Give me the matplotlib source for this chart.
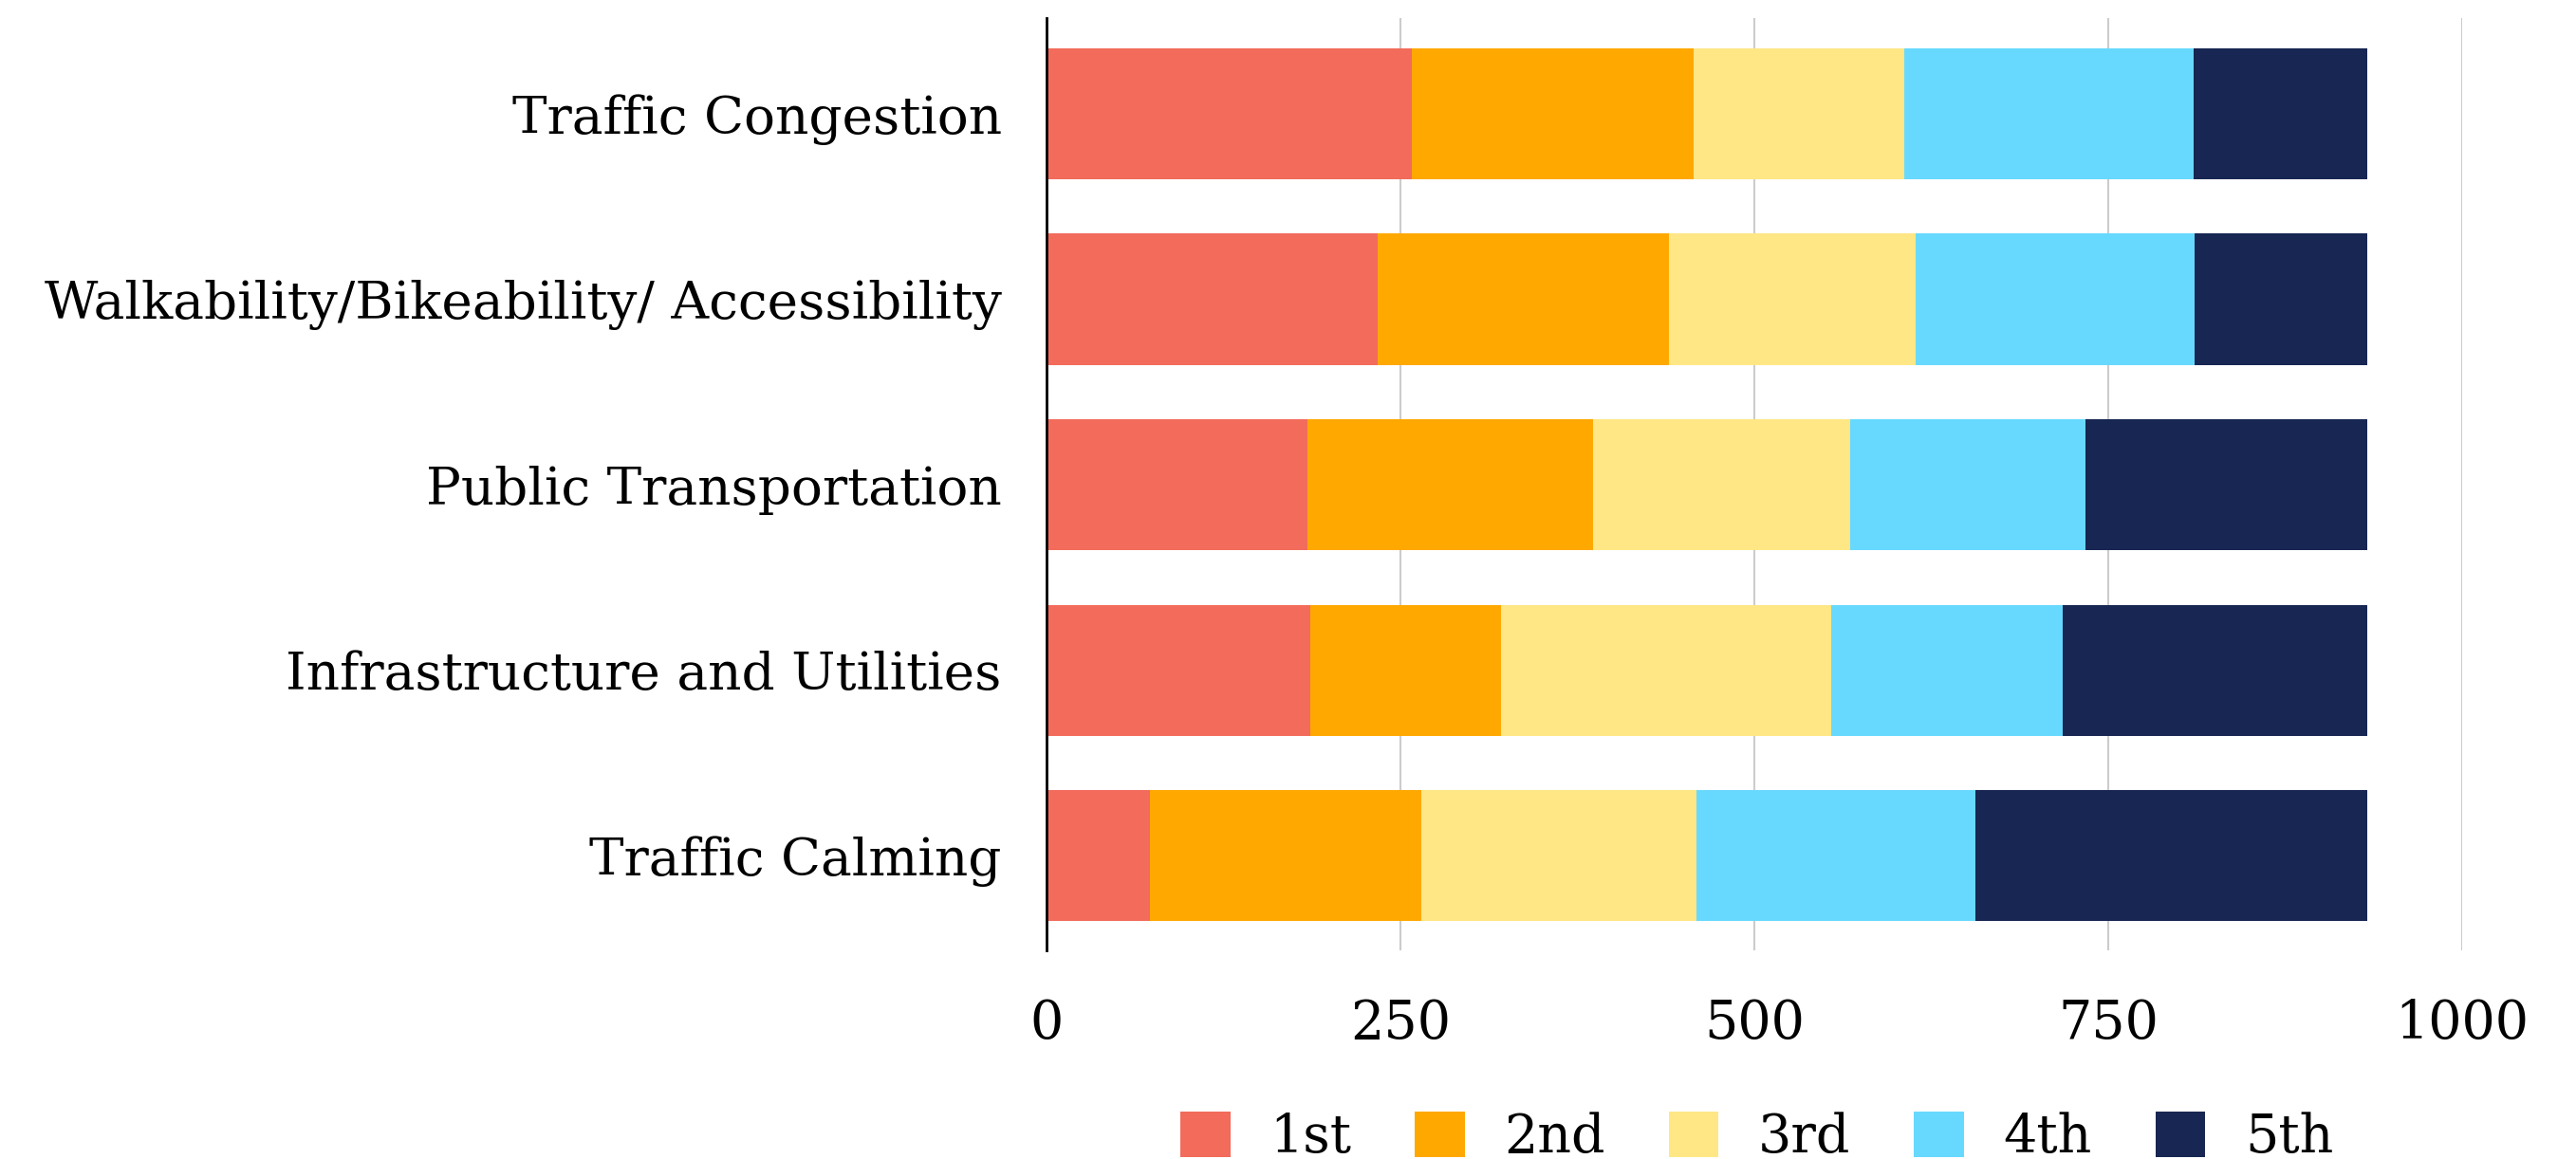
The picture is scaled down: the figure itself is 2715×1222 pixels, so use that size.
import matplotlib
matplotlib.use("Agg")
import matplotlib.pyplot as plt
import numpy as np

categories = ["Traffic Congestion", "Walkability/Bikeability/ Accessibility",
              "Public Transportation", "Infrastructure and Utilities", "Traffic Calming"]
series_names = ["1st", "2nd", "3rd", "4th", "5th"]
first = [258, 234, 184, 186, 73]
second = [199, 206, 202, 135, 192]
third = [149, 174, 182, 233, 194]
fourth = [204, 197, 166, 164, 197]
fifth = [123, 122, 199, 215, 277]
colors = ["#F26B5B", "#FFA800", "#FFE785", "#68D9FE", "#172652"]
xticks = [0, 250, 500, 750, 1000]

plt.rcParams['font.family'] = ['DejaVu Serif']

fig = plt.figure(figsize=(27.15, 12.22), dpi=100)
ax = fig.add_axes([1103/2715, 1 - 1002/1222, (2595-1103)/2715, (1002-19)/1222])

y = np.arange(len(categories))
left = np.zeros(len(categories))
for name, vals, c in zip(series_names, [first, second, third, fourth, fifth], colors):
    ax.barh(y, vals, left=left, height=0.707, color=c, label=name, linewidth=0, zorder=3)
    left += np.array(vals)

ax.set_xlim(0, 1000)
ax.set_ylim(4.51, -0.516)
ax.set_yticks(y)
ax.set_yticklabels(categories, fontsize=39.5)
ax.set_xticks(xticks)
ax.set_xticklabels([str(t) for t in xticks], fontsize=40)
ax.tick_params(axis='y', length=0, pad=34)
ax.tick_params(axis='x', length=0, pad=36)
ax.grid(axis='x', color='#cccccc', linewidth=1.5, zorder=0)
for s in ['top', 'right', 'bottom']:
    ax.spines[s].set_visible(False)
ax.spines['left'].set_linewidth(2)
ax.spines['left'].set_color('black')
ax.spines['left'].set_zorder(4)

fig.legend(loc='lower center', ncol=5, bbox_to_anchor=(0.682, -0.045), frameon=False,
           fontsize=40, handlelength=0.95, handleheight=0.95, handletextpad=0.75,
           columnspacing=1.2)

fig.savefig("out.png", dpi=100, facecolor='white')
